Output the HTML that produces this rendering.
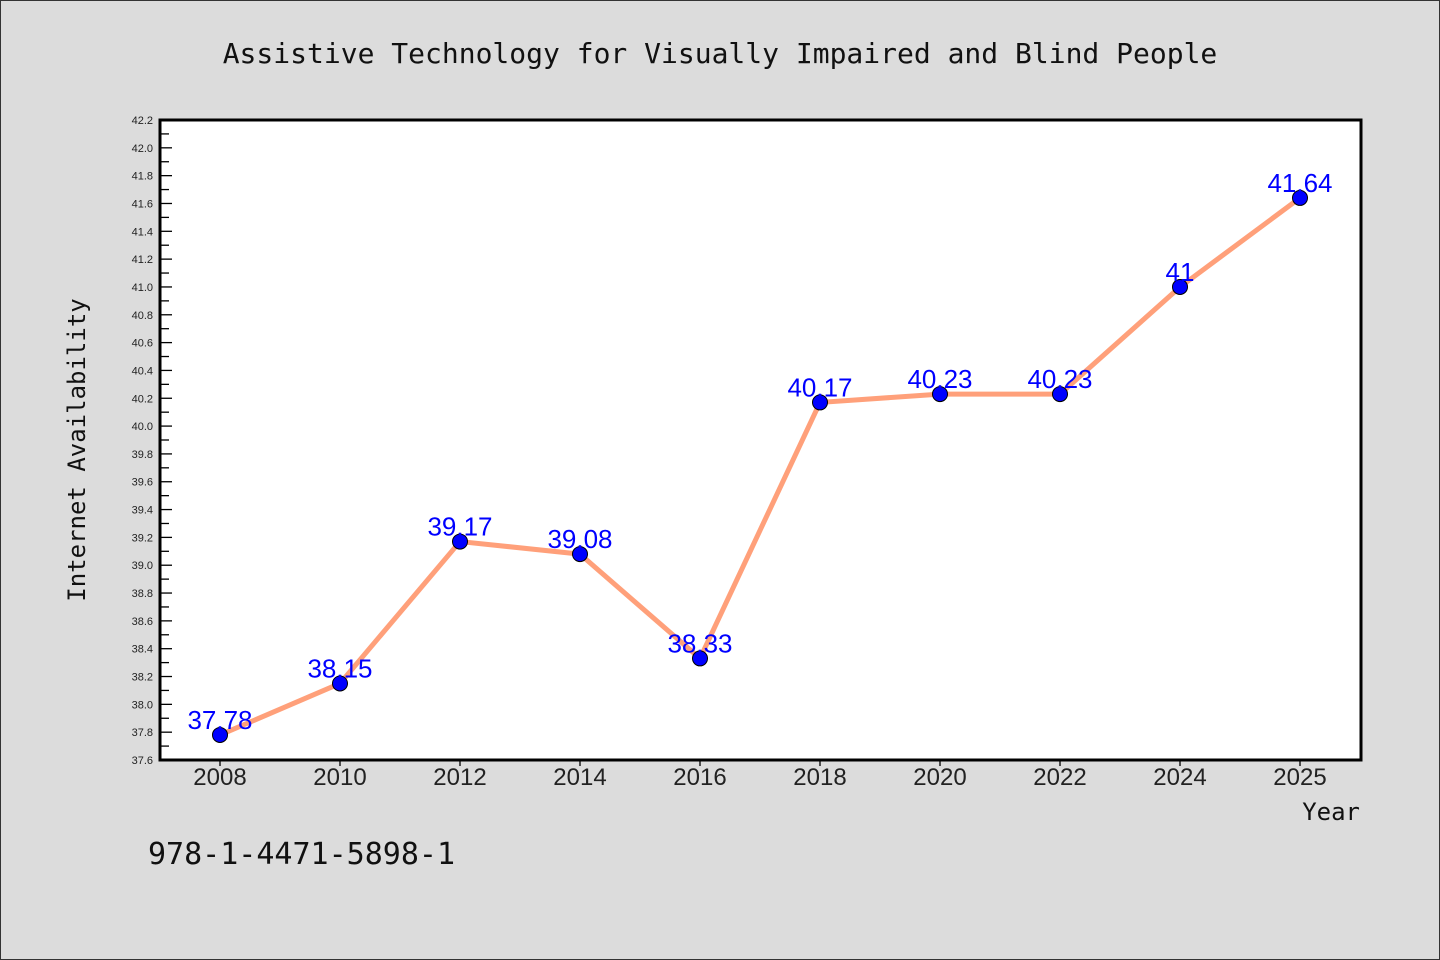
<!DOCTYPE html>
<html><head><meta charset="utf-8"><style>
body{margin:0;background:#dcdcdc;}
svg{display:block;font-family:"Liberation Sans","DejaVu Sans",sans-serif;}
</style></head><body>
<svg id="c" width="1440" height="960">
<rect x="0.5" y="0.5" width="1439" height="959" fill="#dcdcdc" stroke="#333"/>
<text x="720" y="63" text-anchor="middle" font-family="DejaVu Sans Mono, monospace" font-size="28" fill="#111">Assistive Technology for Visually Impaired and Blind People</text>
<rect x="160" y="120" width="1201" height="640" fill="#fff"/>
<g id="yticks"></g><g id="xticks"></g><g id="series"></g>
<rect x="160" y="120" width="1201" height="640" fill="none" stroke="#000" stroke-width="3"/>
<text transform="translate(85,450) rotate(-90)" text-anchor="middle" font-family="DejaVu Sans Mono, monospace" font-size="24" fill="#111">Internet Availability</text>
<text x="1360" y="820" text-anchor="end" font-family="DejaVu Sans Mono, monospace" font-size="24" fill="#111">Year</text>
<text x="148" y="864" font-family="DejaVu Sans Mono, monospace" font-size="30" fill="#111">978-1-4471-5898-1</text>
</svg>
<script>
const categories=["2008","2010","2012","2014","2016","2018","2020","2022","2024","2025"];
const values=[37.78,38.15,39.17,39.08,38.33,40.17,40.23,40.23,41,41.64];
const valueLabels=["37.78","38.15","39.17","39.08","38.33","40.17","40.23","40.23","41","41.64"];
const yMin=37.6,yMax=42.2;
const NS="http://www.w3.org/2000/svg";
const L=160,T=120,R=1361,B=760;
const y=v=>B-(v-yMin)/(yMax-yMin)*(B-T);
const x=i=>220+i*120;
function mk(tag,attrs,parent){const e=document.createElementNS(NS,tag);for(const k in attrs)e.setAttribute(k,attrs[k]);parent.appendChild(e);return e;}
const yt=document.getElementById('yticks');
const n=Math.round((yMax-yMin)/0.1);
for(let k=0;k<=n;k++){
  const v=yMin+k*0.1,yy=y(v),major=k%2===0;
  const t=mk('line',{x1:L,x2:L+(major?12:9),y1:yy,y2:yy,stroke:'#000','stroke-width':1.3},yt);
  
  
  if(major){const tx=mk('text',{x:153,y:yy+4,'text-anchor':'end','font-size':11,fill:'#222'},yt);tx.textContent=v.toFixed(1);
  
  }
}
const xt=document.getElementById('xticks');
categories.forEach((c,i)=>{
  const t=mk('line',{x1:x(i),x2:x(i),y1:B,y2:B+6,stroke:'#000','stroke-width':1.3},xt);
  
  
  const tx=mk('text',{x:x(i),y:B+25,'text-anchor':'middle','font-size':24,fill:'#222'},xt);tx.textContent=c;
  
  
});
const s=document.getElementById('series');
const line=mk('polyline',{points:values.map((v,i)=>x(i)+','+y(v)).join(' '),fill:'none',stroke:'#ffa07a','stroke-width':5,'stroke-linejoin':'round'},s);


values.forEach((v,i)=>{
  const p=mk('circle',{cx:x(i),cy:y(v),r:7.5,fill:'#0000ff',stroke:'#000','stroke-width':1},s);
  
  
  const t=mk('text',{x:x(i),y:y(v)-6,'text-anchor':'middle','font-size':26,fill:'#0000ff'},s);t.textContent=valueLabels[i];
  
  
});
</script>
</body></html>
